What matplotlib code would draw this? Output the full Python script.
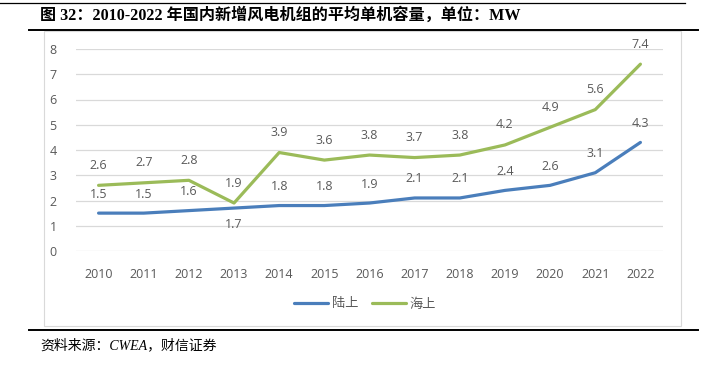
import matplotlib.pyplot as plt
from matplotlib.lines import Line2D
from matplotlib.patches import Rectangle
import numpy as np

years = ["2010", "2011", "2012", "2013", "2014", "2015", "2016",
         "2017", "2018", "2019", "2020", "2021", "2022"]
onshore = [1.5, 1.5, 1.6, 1.7, 1.8, 1.8, 1.9, 2.1, 2.1, 2.4, 2.6, 3.1, 4.3]
offshore = [2.6, 2.7, 2.8, 1.9, 3.9, 3.6, 3.8, 3.7, 3.8, 4.2, 4.9, 5.6, 7.4]
series_names = ["陆上", "海上"]

W, H = 710, 369
BLUE = "#4A7EBB"
GREEN = "#9BBB59"
GRAY = "#595959"
CJK = ["Noto Sans CJK SC", "DejaVu Sans"]


def fx(px):
    return px / W


def fy(py):
    return 1 - py / H


fig = plt.figure(figsize=(W / 100, H / 100), dpi=100)

# header / footer rules and chart frame
fig.add_artist(Line2D([fx(0), fx(685)], [fy(3), fy(3)], color="black", lw=0.9))
fig.add_artist(Line2D([fx(29), fx(698)], [fy(29.5), fy(29.5)], color="black", lw=1.4))
fig.add_artist(Line2D([fx(29), fx(698)], [fy(330), fy(330)], color="black", lw=1.4))
fig.add_artist(Rectangle((fx(44), fy(326)), fx(681) - fx(44), fy(31) - fy(326),
                         fill=False, edgecolor="#D9D9D9", lw=0.8))

fig.text(fx(40), fy(16), "图 32：2010-2022 年国内新增风电机组的平均单机容量，单位：MW",
         family=["Liberation Serif", "Noto Sans CJK SC"], weight="bold",
         fontsize=11.6, va="center", ha="left")
fig.text(fx(40), fy(345), "资料来源：CWEA，财信证券",
         family=["Liberation Serif", "Noto Sans CJK SC"], style="italic",
         fontsize=10, va="center", ha="left")

ax = fig.add_axes([fx(76), fy(251), fx(663) - fx(76), fy(49) - fy(251)])
x = np.arange(len(years))
ax.plot(x, onshore, color=BLUE, lw=2.3, label=series_names[0], solid_capstyle="round")
ax.plot(x, offshore, color=GREEN, lw=2.3, label=series_names[1], solid_capstyle="round")

for i, v in enumerate(onshore):
    off = -16 if years[i] == "2013" else 19
    ax.annotate(f"{v:.1f}", (i, v), xytext=(0, off), textcoords="offset pixels",
                ha="center", va="center", fontsize=9, color=GRAY, family="Open Sans")
for i, v in enumerate(offshore):
    ax.annotate(f"{v:.1f}", (i, v), xytext=(0, 20), textcoords="offset pixels",
                ha="center", va="center", fontsize=9, color=GRAY, family="Open Sans")

ax.set_xlim(-0.5, len(years) - 0.5)
ax.set_ylim(0, 8)
ax.set_yticks(range(0, 9))
ax.set_xticks(x)
ax.set_xticklabels(years)
ax.grid(axis="y", color="#D9D9D9", lw=0.9)
ax.set_axisbelow(True)
for s in ax.spines.values():
    s.set_visible(False)
ax.tick_params(length=0, colors=GRAY, labelsize=9)
ax.tick_params(axis="y", pad=14)
ax.tick_params(axis="x", pad=12)
for lab in ax.get_xticklabels() + ax.get_yticklabels():
    lab.set_family("Open Sans")

leg = fig.legend(loc="center", bbox_to_anchor=(fx(365), fy(304)), ncol=2, frameon=False,
                 prop={"family": CJK, "size": 9.5}, handlelength=2.6, columnspacing=1.0,
                 handletextpad=0.3)
for t in leg.get_texts():
    t.set_color(GRAY)

fig.savefig("out.png", dpi=100)
